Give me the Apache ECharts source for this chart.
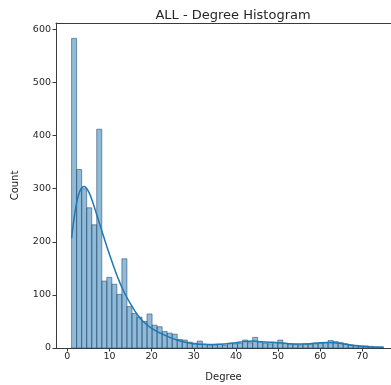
<!DOCTYPE html>
<html>
<head>
<meta charset="utf-8">
<script src="https://cdn.jsdelivr.net/npm/echarts@6/dist/echarts.min.js"></script>
<style>
html,body{margin:0;padding:0;background:#fff;}
#chart{width:391px;height:385px;}
</style>
</head>
<body>
<div id="chart"></div>
<script>
// Histogram bins (equal width between binMin and binMax)
const binMin = 1;
const binMax = 75;
const binCounts = [583, 336, 300, 264, 232, 412, 126, 133, 120, 101,
  168, 78, 65, 58, 50, 64, 43, 40, 31, 28,
  26, 16, 15, 11, 9, 13, 7, 6, 6, 7,
  5, 9, 8, 9, 15, 10, 20, 12, 9, 8,
  10, 15, 9, 8, 7, 6, 8, 7, 8, 9,
  10, 14, 12, 10, 8, 6, 5, 4, 4, 3,
  2, 2];
// KDE curve (scaled to counts)
const kdeDegree = [1, 2, 3, 4, 5, 6, 7, 8, 9, 10, 11, 12, 13, 14, 15, 16, 17, 18, 19, 20,
  22, 24, 26, 28, 30, 32, 34, 36, 38, 40, 42, 44, 46, 48, 50, 52, 54, 56, 58, 60,
  62, 64, 66, 68, 70, 72, 75];
const kdeCount = [207, 265, 296, 304, 295, 275, 250, 225, 200, 176, 153, 132, 113, 97, 83, 70, 59, 50, 43, 37,
  28, 21, 15, 11, 8, 7, 6.5, 7, 8, 10, 12, 13, 12, 11, 10, 8.5, 7.5, 7.5, 8.5, 10,
  10.5, 9.5, 7, 4.5, 3, 2, 1.5];
const xTicks = [0, 10, 20, 30, 40, 50, 60, 70];
const yTicks = [0, 100, 200, 300, 400, 500, 600];
const titleText = 'ALL - Degree Histogram';
const xName = 'Degree';
const yName = 'Count';

const nBins = binCounts.length;
const binW = (binMax - binMin) / nBins;
const histData = binCounts.map((c, i) => [binMin + i * binW, binMin + (i + 1) * binW, c]);
const kdeData = kdeDegree.map((d, i) => [d, kdeCount[i]]);

const FONT = 'DejaVu Sans';
const AX = '#3a3a3a';
const chart = echarts.init(document.getElementById('chart'), null, {renderer: 'canvas'});
chart.setOption({
  animation: false,
  backgroundColor: '#ffffff',
  title: {
    text: titleText, left: 228, top: 4, textAlign: 'center',
    textStyle: {fontFamily: FONT, fontSize: 13, fontWeight: 'normal', color: '#262626'}
  },
  grid: {left: 56, right: 0, top: 23, bottom: 37, outerBoundsMode: 'none', containLabel: false},
  xAxis: [{
    type: 'value', min: -2.7, max: 76.8,
    name: xName, nameLocation: 'middle', nameGap: 24,
    nameTextStyle: {fontFamily: FONT, fontSize: 10, color: '#262626'},
    axisLine: {show: true, onZero: false, lineStyle: {color: AX, width: 1}},
    axisTick: {show: true, length: 3.5, customValues: xTicks, lineStyle: {color: AX}},
    axisLabel: {customValues: xTicks, fontFamily: FONT, fontSize: 9.5, color: '#262626', margin: 4},
    splitLine: {show: false}
  }, {
    type: 'value', position: 'top', min: -2.7, max: 76.8,
    axisLine: {show: true, onZero: false, lineStyle: {color: AX, width: 1}},
    axisTick: {show: false}, axisLabel: {show: false}, splitLine: {show: false}
  }],
  yAxis: {
    type: 'value', min: 0, max: 612,
    name: yName, nameLocation: 'middle', nameGap: 36, nameRotate: 90,
    nameTextStyle: {fontFamily: FONT, fontSize: 10, color: '#262626'},
    axisLine: {show: true, onZero: false, lineStyle: {color: AX, width: 1}},
    axisTick: {show: true, length: 3.5, customValues: yTicks, lineStyle: {color: AX}},
    axisLabel: {customValues: yTicks, fontFamily: FONT, fontSize: 9.5, color: '#262626', margin: 5},
    splitLine: {show: false}
  },
  series: [
    {
      type: 'custom',
      data: histData,
      encode: {x: [0, 1], y: 2},
      renderItem: function (params, api) {
        const p0 = api.coord([api.value(0), api.value(2)]);
        const p1 = api.coord([api.value(1), 0]);
        return {
          type: 'rect',
          shape: {x: p0[0], y: p0[1], width: p1[0] - p0[0], height: p1[1] - p0[1]},
          style: {fill: 'rgba(31,119,180,0.5)', stroke: 'rgba(45,80,110,0.85)', lineWidth: 0.7}
        };
      },
      z: 2
    },
    {
      type: 'line',
      data: kdeData,
      smooth: 0.4,
      showSymbol: false,
      lineStyle: {color: '#1f77b4', width: 1.5},
      z: 3
    }
  ]
});
</script>
</body>
</html>
